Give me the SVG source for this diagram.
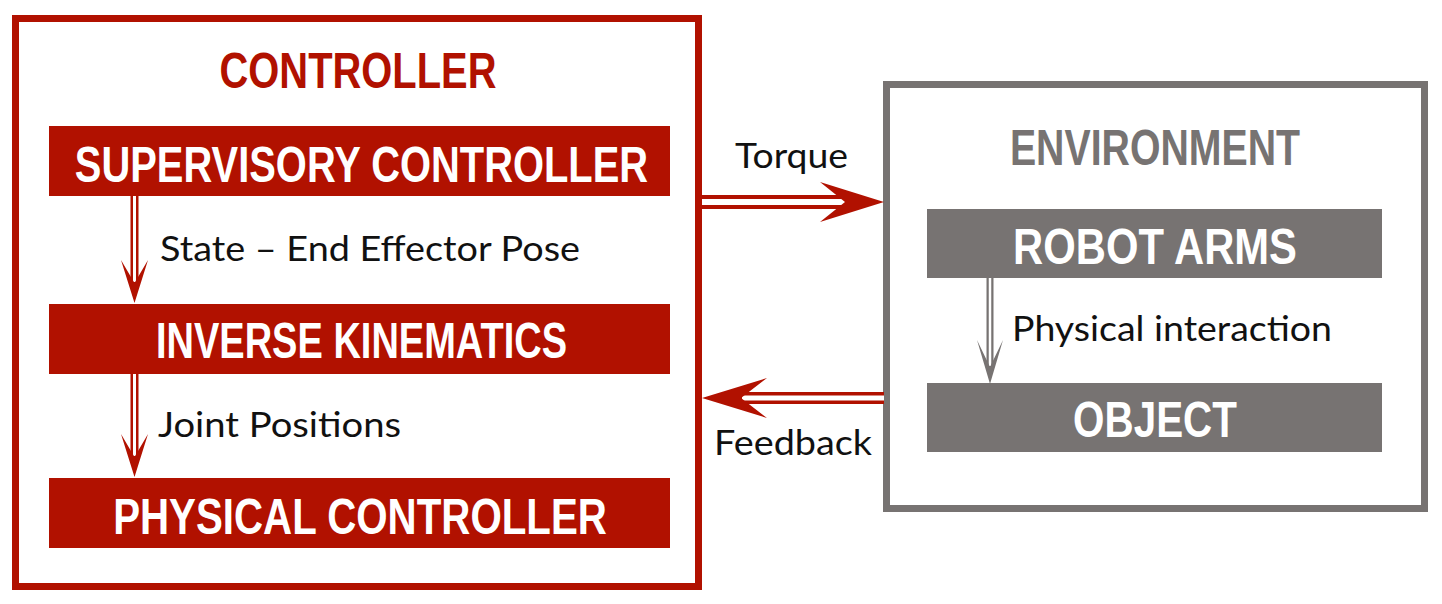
<svg xmlns="http://www.w3.org/2000/svg" width="1442" height="604" viewBox="0 0 1442 604">
<style>
.red{fill:#b11100}
.grey{fill:#777372}
.title{font-family:"Liberation Sans",Arial,sans-serif;font-weight:bold;font-size:50px;text-anchor:middle}
.wt{fill:#ffffff}
.lbl{font-family:Lato,"Open Sans",sans-serif;font-weight:400;font-size:34px;fill:#111111}
</style>
<rect width="1442" height="604" fill="#ffffff"/>
<g id="controller">
<rect x="15.5" y="18.5" width="683" height="568" fill="none" stroke="#b11100" stroke-width="7"/>
<text class="title red" transform="translate(358,88) scale(0.78,1)" x="0" y="0" textLength="355" lengthAdjust="spacingAndGlyphs">CONTROLLER</text>
</g>
<g id="supervisory">
<rect class="red" x="49" y="126" width="621" height="70"/>
<text class="title wt" transform="translate(361.5,182) scale(0.78,1)" x="0" y="0" textLength="735" lengthAdjust="spacingAndGlyphs">SUPERVISORY CONTROLLER</text>
</g>
<g id="inverse">
<rect class="red" x="49" y="304" width="621" height="70"/>
<text class="title wt" transform="translate(361.5,358) scale(0.78,1)" x="0" y="0" textLength="527" lengthAdjust="spacingAndGlyphs">INVERSE KINEMATICS</text>
</g>
<g id="physical">
<rect class="red" x="49" y="478" width="621" height="70"/>
<text class="title wt" transform="translate(360,534) scale(0.78,1)" x="0" y="0" textLength="633" lengthAdjust="spacingAndGlyphs">PHYSICAL CONTROLLER</text>
</g>
<g id="environment">
<rect x="886.5" y="84.5" width="538" height="424" fill="none" stroke="#777372" stroke-width="7"/>
<text class="title grey" transform="translate(1155,165) scale(0.78,1)" x="0" y="0" textLength="372" lengthAdjust="spacingAndGlyphs">ENVIRONMENT</text>
</g>
<g id="robot">
<rect class="grey" x="927" y="209" width="455" height="69"/>
<text class="title wt" transform="translate(1155,264) scale(0.78,1)" x="0" y="0" textLength="364" lengthAdjust="spacingAndGlyphs">ROBOT ARMS</text>
</g>
<g id="object">
<rect class="grey" x="927" y="383" width="455" height="69"/>
<text class="title wt" transform="translate(1155,437) scale(0.78,1)" x="0" y="0" textLength="210" lengthAdjust="spacingAndGlyphs">OBJECT</text>
</g>
<g id="connectors">
<line x1="702" y1="202" x2="848" y2="202" stroke="#b11100" stroke-width="14"/>
<line x1="702" y1="202" x2="846" y2="202" stroke="#ffffff" stroke-width="6"/>
<polygon class="red" points="884,202 820,182 845,202 820,222"/>
<line x1="738" y1="398" x2="884" y2="398" stroke="#b11100" stroke-width="12"/>
<line x1="742" y1="398" x2="884" y2="398" stroke="#ffffff" stroke-width="5"/>
<polygon class="red" points="702,398 767,378 741,398 767,418"/>
<line x1="134.5" y1="196" x2="134.5" y2="285" stroke="#b11100" stroke-width="8"/>
<line x1="134.5" y1="196" x2="134.5" y2="282" stroke="#ffffff" stroke-width="3"/>
<polygon class="red" points="134.5,303 148,260 134.5,283 121,260"/>
<line x1="134.5" y1="374" x2="134.5" y2="459" stroke="#b11100" stroke-width="8"/>
<line x1="134.5" y1="374" x2="134.5" y2="456" stroke="#ffffff" stroke-width="3"/>
<polygon class="red" points="134.5,477 148,434 134.5,457 121,434"/>
<line x1="990" y1="278" x2="990" y2="369" stroke="#777372" stroke-width="7"/>
<line x1="990" y1="278" x2="990" y2="366" stroke="#ffffff" stroke-width="2.5"/>
<polygon class="grey" points="990,384 1003,340 990,367 977,340"/>
<text class="lbl" x="735" y="168" textLength="113" lengthAdjust="spacingAndGlyphs">Torque</text>
<text class="lbl" x="714" y="455" textLength="158" lengthAdjust="spacingAndGlyphs">Feedback</text>
<text class="lbl" x="160" y="261" textLength="420" lengthAdjust="spacingAndGlyphs">State – End Effector Pose</text>
<text class="lbl" x="158" y="437" textLength="243" lengthAdjust="spacingAndGlyphs">Joint Positions</text>
<text class="lbl" x="1012" y="341" textLength="320" lengthAdjust="spacingAndGlyphs">Physical interaction</text>
</g>
</svg>
